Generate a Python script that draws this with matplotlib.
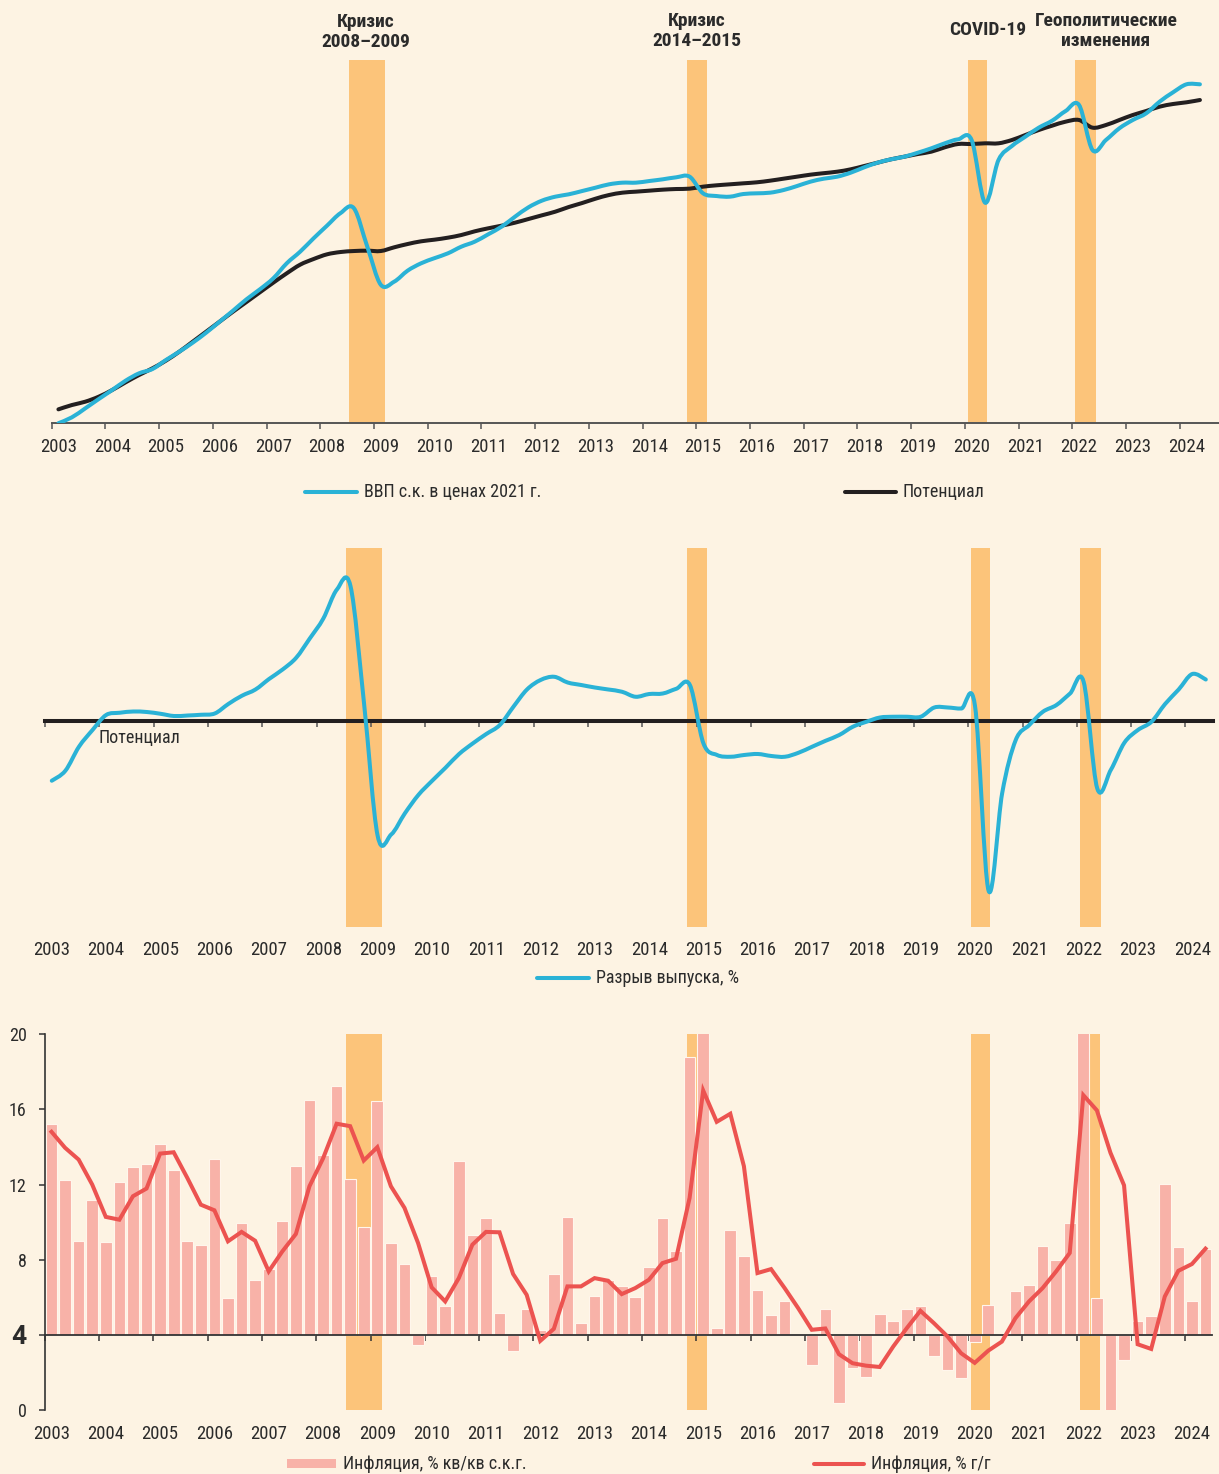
import numpy as np
import matplotlib
matplotlib.use("Agg")
import matplotlib.pyplot as plt
from matplotlib.path import Path
from matplotlib.patches import PathPatch, Rectangle
from matplotlib.lines import Line2D
import matplotlib.transforms as mtrans
from matplotlib import font_manager

_names = {f.name for f in font_manager.fontManager.ttflist}
_fam = [n for n in ['Roboto Condensed', 'Liberation Sans Narrow', 'Roboto'] if n in _names]
plt.rcParams['font.family'] = _fam + ['DejaVu Sans']
CONDENSED = bool(_fam) and _fam[0] != 'Roboto'

# ---------------- DATA ----------------
years = list(range(2003, 2025))
year_labels = [str(y) for y in years]

crisis_start = [2008.54, 2014.825, 2020.06, 2022.055]
crisis_end = [2009.205, 2015.19, 2020.405, 2022.44]
crisis_labels = ['Кризис\n2008–2009', 'Кризис\n2014–2015', 'COVID-19', 'Геополитические\nизменения']

# GDP s.a., 2021 prices (quarterly, 2003Q1 - 2024Q2), arbitrary level units
gdp = [79.9, 81.07, 82.87, 84.73, 86.53, 88.4, 89.87, 90.73, 92.53, 94.2, 96.0, 98.0, 100.2, 102.4,
       104.67, 106.67, 108.87, 111.87, 114.2, 116.87, 119.4, 121.9, 122.9, 115.2, 107.6, 108.2, 110.4,
       111.87, 112.9,
       113.87, 115.2, 116.2, 117.67, 119.2, 121.2, 123.07, 124.4, 125.2, 125.67, 126.33, 127.0, 127.67,
       128.0, 128.0, 128.33, 128.67, 129.07, 129.2, 125.87, 125.33, 125.2, 125.73, 125.87, 126.0, 126.53,
       127.33, 128.2, 128.8,
       129.2, 130.0, 131.07, 132.0, 132.67, 133.2, 134.0, 134.87, 135.87, 136.67, 136.53, 124.0, 132.53,
       135.33, 137.2, 139.0, 140.4, 142.33, 143.53, 134.53, 136.53, 138.87, 140.53, 141.87, 144.2, 146.07,
       147.67, 147.67]

potential = [82.67, 83.53, 84.2, 85.2, 86.53, 88.07, 89.53, 90.87, 92.4, 94.2, 96.2, 98.2, 100.2, 102.2,
             104.13, 106.07, 108.0, 109.87, 111.6, 112.73, 113.67, 114.13, 114.33, 114.4, 114.33, 115.07,
             115.73, 116.27, 116.6,
             117.0, 117.53, 118.27, 118.87, 119.4, 120.0, 120.73, 121.47, 122.2, 123.13, 123.93, 124.8,
             125.53, 126.0, 126.2, 126.4, 126.6, 126.73, 126.8, 127.2, 127.47, 127.67, 127.87, 128.07,
             128.4, 128.8, 129.2, 129.6, 129.9,
             130.2, 130.67, 131.33, 132.0, 132.67, 133.2, 133.73, 134.2, 135.07, 135.73, 135.73, 135.87,
             135.87, 136.53, 137.53, 138.53, 139.4, 140.2, 140.53, 139.0, 139.53, 140.53, 141.53, 142.33,
             143.2, 143.73, 144.07, 144.53]

# Output gap, %
gap = [-2.4, -2.0, -1.04, -0.37, 0.23, 0.32, 0.37, 0.35, 0.28, 0.19, 0.21, 0.24, 0.29, 0.67, 1.0, 1.25,
       1.67, 2.05, 2.52, 3.29, 4.09, 5.25, 5.39, 0.69, -4.6, -4.55, -3.71, -2.97, -2.41, -1.88, -1.33,
       -0.91, -0.53, -0.17, 0.56, 1.25, 1.63, 1.76, 1.53, 1.43, 1.33, 1.25,
       1.16, 0.96, 1.07, 1.09, 1.28, 1.43, -0.91, -1.37, -1.44, -1.37, -1.33, -1.41, -1.44, -1.28, -1.04,
       -0.8, -0.57, -0.24, -0.04, 0.13, 0.16, 0.16, 0.16, 0.53, 0.53, 0.49, 0.59, -6.8, -2.9, -0.77,
       -0.17, 0.36, 0.63, 1.09, 1.56, -2.7, -1.97, -0.88, -0.37, -0.04, 0.67, 1.25, 1.87, 1.65]

# Inflation, % q/q s.a.a.r.
infl_qq = [15.2, 12.27, 9.0, 11.2, 8.96, 12.14, 12.92, 13.12, 14.17, 12.76,
           9.01, 8.8, 13.37, 5.96, 9.96, 6.93, 7.5, 10.04, 13.01, 16.48,
           13.6, 17.23, 12.32, 9.74, 16.44, 8.89, 7.79, 3.47, 7.11, 5.56,
           13.24, 9.3, 10.22, 5.14, 3.15, 5.4, 4.27, 7.24, 10.29, 4.62,
           6.06, 6.92, 6.6, 5.99, 7.59, 10.22, 8.48, 18.81, 24.0, 4.39,
           9.56, 8.18, 6.4, 5.07, 5.78, 4.0, 2.4, 5.39, 0.36, 2.22,
           1.78, 5.1, 4.75, 5.39, 5.55, 2.9, 2.12, 1.72, 3.64, 5.6,
           4.0, 6.36, 6.67, 8.71, 8.0, 9.96, 24.0, 5.96, -0.2, 2.67,
           4.75, 5.03, 12.04, 8.66, 5.78, 8.59]

# Inflation, % y/y
infl_yy = [14.81, 13.96, 13.33, 12.0, 10.28, 10.13, 11.38, 11.79, 13.65, 13.72,
           12.36, 10.93, 10.63, 8.98, 9.48, 9.01, 7.38, 8.44, 9.37, 11.91,
           13.39, 15.24, 15.11, 13.28, 13.99, 11.91, 10.76, 8.89, 6.53, 5.78,
           7.02, 8.8, 9.48, 9.46, 7.24, 6.13, 3.68, 4.32, 6.58, 6.58,
           7.02, 6.88, 6.17, 6.49, 6.93, 7.82, 8.05, 11.29, 17.01, 15.34,
           15.77, 12.98, 7.29, 7.5, 6.49, 5.42, 4.27, 4.34, 2.97, 2.49,
           2.36, 2.29, 3.38, 4.36, 5.28, 4.62, 3.91, 3.02, 2.51, 3.16,
           3.64, 4.89, 5.78, 6.49, 7.38, 8.36, 16.76, 15.95, 13.69, 11.96,
           3.5, 3.25, 6.04, 7.41, 7.77, 8.59]

infl_target = 4
inflation_ticks = [0, 4, 8, 12, 16, 20]

# ---------------- STYLE ----------------
BG = '#FDF3E3'
BAND = '#FCC47A'
BLUE = '#2AB2D6'
BLACK = '#231F20'
PINK = '#F8B2A8'
RED = '#EC5350'
TXT = '#2B2B2B'
AXC = '#555555'

FS_TICK = 13.5 if CONDENSED else 12.5
FS_LEG = 13 if CONDENSED else 12
FS_HEAD = 14 if CONDENSED else 13

W, H = 1219, 1474
fig = plt.figure(figsize=(W / 100, H / 100), dpi=100, facecolor=BG)


def add_axes_px(left, top, right, bottom):
    ax = fig.add_axes([left / W, 1 - bottom / H, (right - left) / W, (bottom - top) / H])
    ax.set_facecolor('none')
    for s in ax.spines.values():
        s.set_visible(False)
    return ax


def to_q(year):
    return (year - 2003) * 4


def smooth_path(x, y):
    pts = np.column_stack([x, y]).astype(float)
    verts = [pts[0]]
    codes = [Path.MOVETO]
    n = len(pts)
    for i in range(n - 1):
        p0 = pts[i - 1] if i > 0 else pts[i]
        p1 = pts[i]
        p2 = pts[i + 1]
        p3 = pts[i + 2] if i + 2 < n else pts[i + 1]
        verts += [p1 + (p2 - p0) / 6.0, p2 - (p3 - p1) / 6.0, p2]
        codes += [Path.CURVE4] * 3
    return Path(verts, codes)


def draw_smooth(ax, y, color, lw, z=3):
    x = np.arange(len(y)) + 0.5
    ax.add_patch(PathPatch(smooth_path(x, y), fill=False, edgecolor=color, lw=lw,
                           capstyle='round', joinstyle='round', zorder=z))


def year_labels_at(ax, ypix):
    tr = mtrans.blended_transform_factory(ax.transData, fig.transFigure)
    for i, lab in enumerate(year_labels):
        ax.text(i * 4 + 0.5, 1 - ypix / H, lab, transform=tr, ha='center', va='center',
                fontsize=FS_TICK, color=TXT)


def year_ticks(ax, color, width, length):
    ax.set_xticks([i * 4 for i in range(len(years))])
    ax.set_xticklabels([])
    ax.tick_params(axis='x', direction='out', length=length, width=width, color=color)
    ax.tick_params(axis='y', left=False, labelleft=False)


def bands(ax):
    for s, e in zip(crisis_start, crisis_end):
        ax.axvspan(to_q(s), to_q(e), color=BAND, lw=0, zorder=0)


def legend_line(x1, x2, y, color, text, lw=2.9):
    fig.add_artist(Line2D([x1 / W, x2 / W], [1 - y / H, 1 - y / H], color=color, lw=lw,
                          transform=fig.transFigure, solid_capstyle='round'))
    fig.text((x2 + 7) / W, 1 - y / H, text, ha='left', va='center', fontsize=FS_LEG, color=TXT)


# ---------------- PANEL 1: GDP and potential ----------------
ax1 = add_axes_px(51.7, 60, 1219, 422.7)
ax1.set_xlim(0, 86.92)
ax1.set_ylim(80, 152.53)
bands(ax1)
draw_smooth(ax1, potential, BLACK, 2.9, z=3)
draw_smooth(ax1, gdp, BLUE, 2.9, z=4)
ax1.spines['bottom'].set_visible(True)
ax1.spines['bottom'].set_color(AXC)
ax1.spines['bottom'].set_linewidth(1.4)
year_ticks(ax1, AXC, 1.1, 4.2)
year_labels_at(ax1, 447)

label_x = [366, 697, 988, 1106]
label_y = [32, 31, 30, 31]
for lx, ly, lab in zip(label_x, label_y, crisis_labels):
    fig.text(lx / W, 1 - ly / H, lab, ha='center', va='center', fontsize=FS_HEAD,
             fontweight='bold', color=TXT, linespacing=1.2)

legend_line(305, 357, 492, BLUE, 'ВВП с.к. в ценах 2021 г.')
legend_line(845, 896, 492, BLACK, 'Потенциал')

# ---------------- PANEL 2: output gap ----------------
ax2 = add_axes_px(45.0, 548.3, 1212.6, 926.7)
ax2.set_xlim(0, 86)
ax2.set_ylim(-8.24, 6.9)
bands(ax2)
ax2.spines['bottom'].set_visible(True)
ax2.spines['bottom'].set_position(('data', 0))
ax2.spines['bottom'].set_color(BLACK)
ax2.spines['bottom'].set_linewidth(2.9)
ax2.spines['bottom'].set_zorder(2)
year_ticks(ax2, AXC, 1.1, 4.5)
draw_smooth(ax2, gap, BLUE, 2.9, z=4)
year_labels_at(ax2, 950)
fig.text(99 / W, 1 - 737.5 / H, 'Потенциал', ha='left', va='center', fontsize=FS_LEG, color=TXT)
legend_line(537, 589, 978, BLUE, 'Разрыв выпуска, %')

# ---------------- PANEL 3: inflation ----------------
ax3 = add_axes_px(44.7, 1034.3, 1212.3, 1410)
ax3.set_xlim(0, 86)
ax3.set_ylim(0, 20)
bands(ax3)
xq = np.arange(len(infl_qq)) + 0.5
heights = np.array(infl_qq) - infl_target
ax3.bar(xq, heights, bottom=infl_target, width=0.86, color=PINK, edgecolor='#FFF6EC',
        linewidth=0.8, zorder=2)
ax3.plot(xq, infl_yy, color=RED, lw=2.9, zorder=4, solid_joinstyle='miter')
ax3.spines['bottom'].set_visible(True)
ax3.spines['bottom'].set_position(('data', infl_target))
ax3.spines['bottom'].set_color('#333333')
ax3.spines['bottom'].set_linewidth(1.3)
ax3.spines['bottom'].set_zorder(3)
ax3.spines['left'].set_visible(True)
ax3.spines['left'].set_color('#333333')
ax3.spines['left'].set_linewidth(1.2)
ax3.set_xticks([i * 4 for i in range(len(years))])
ax3.set_xticklabels([])
ax3.tick_params(axis='x', direction='out', length=4.2, width=1.1, color='#333333')
ax3.set_yticks(inflation_ticks)
ax3.set_yticklabels([str(v) for v in inflation_ticks])
ax3.tick_params(axis='y', direction='out', length=4, width=1.1, color='#333333',
                labelsize=FS_TICK - 0.5, labelcolor=TXT, pad=9)
for t, v in zip(ax3.get_yticklabels(), inflation_ticks):
    if v == infl_target:
        t.set_family(['Roboto', 'DejaVu Sans'])
        t.set_fontsize(19)
        t.set_fontweight('bold')
year_labels_at(ax3, 1434)

fig.add_artist(Rectangle((287 / W, 1 - 1467.5 / H), 49 / W, 9 / H, transform=fig.transFigure,
                         facecolor=PINK, edgecolor='none'))
fig.text(343 / W, 1 - 1464 / H, 'Инфляция, % кв/кв с.к.г.', ha='left', va='center',
         fontsize=FS_LEG, color=TXT)
legend_line(814, 864, 1464, RED, 'Инфляция, % г/г')

fig.savefig('out.png', dpi=100, facecolor=BG)
